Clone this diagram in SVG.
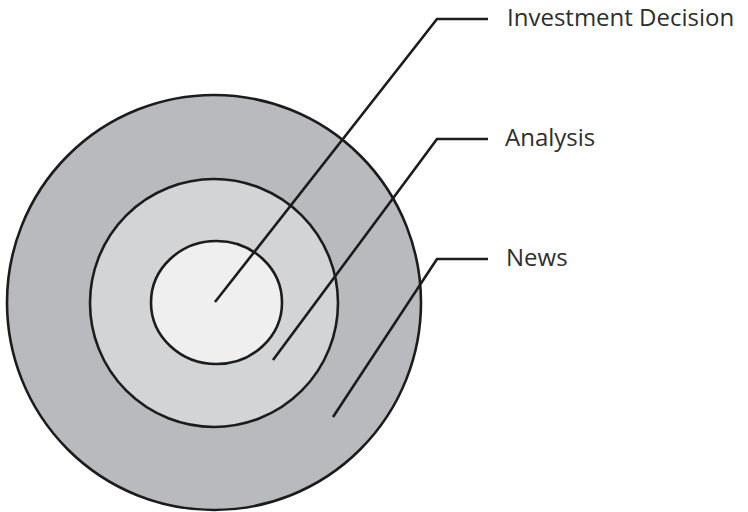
<svg xmlns="http://www.w3.org/2000/svg" width="748" height="512" viewBox="0 0 748 512">
  <style>
    .ring { stroke: #1c1c1c; stroke-width: 2.6; }
    .leader { fill: none; stroke: #1c1c1c; stroke-width: 2.6; stroke-linejoin: miter; }
    .label { font-family: "Open Sans", "Noto Sans", sans-serif; font-size: 24px; fill: #2e2e2e; }
  </style>
  <rect width="748" height="512" fill="#ffffff"/>

  <g id="news-ring">
    <ellipse class="ring" cx="214" cy="302.5" rx="207" ry="207.5" fill="#b9babd"/>
  </g>
  <g id="analysis-ring">
    <circle class="ring" cx="214" cy="303" r="124" fill="#d3d4d6"/>
  </g>
  <g id="decision-core">
    <ellipse class="ring" cx="216.5" cy="302.5" rx="65.5" ry="61.5" fill="#efefef"/>
  </g>

  <g id="connectors">
    <polyline class="leader" points="215,302 437,19 488,19"/>
    <polyline class="leader" points="273,360 437,139 488,139"/>
    <polyline class="leader" points="333,417 437,259 488,259"/>
  </g>

  <g id="labels">
    <text class="label" x="507" y="26">Investment Decision</text>
    <text class="label" x="505" y="146">Analysis</text>
    <text class="label" x="506" y="266">News</text>
  </g>
</svg>
